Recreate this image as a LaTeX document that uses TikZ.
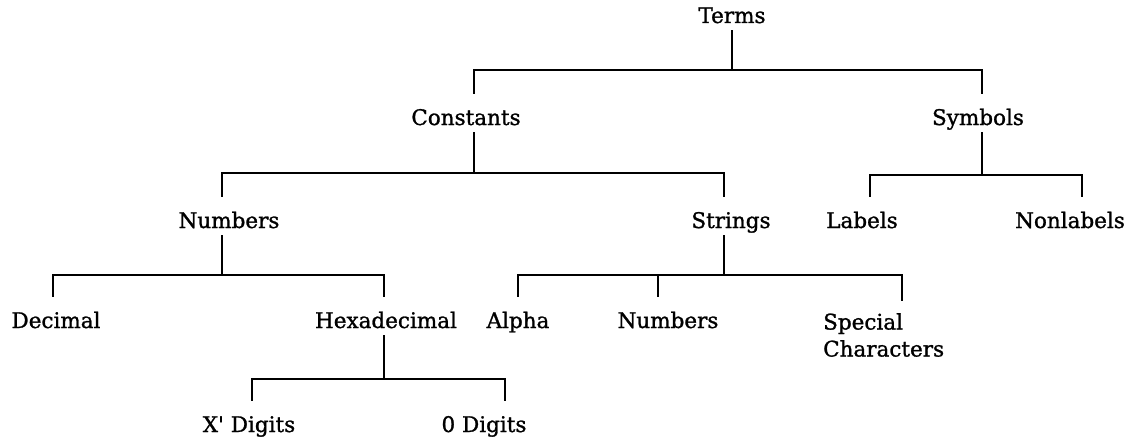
\documentclass[tikz,border=0pt]{standalone}
\usepackage{fontspec}
\setmainfont{DejaVu Serif}[FakeBold=1.2]
\newfontfamily\treefont{DejaVu Serif}[FakeBold=1.2]
\usepackage{tikz}

\begin{document}
\begin{tikzpicture}[
    x=1pt, y=-1pt,
    txt/.style={inner sep=0pt, font=\treefont\fontsize{21.5}{27}\selectfont},
    word/.style={txt, text height=15pt, text depth=4pt, anchor=base},
    link/.style={line width=2.2pt, draw=black},
    stem/.style={link, shorten <=3pt},
    drop/.style={link, shorten >=16pt}
]
\useasboundingbox (0,0) rectangle (1133,439);

% Nodes
\node[word] (terms) at (732,23) {Terms};

\node[word] (constants) at (466,125) {Constants};
\node[word] (symbols) at (978,125) {Symbols};

\node[word] (numbers) at (229,228) {Numbers};
\node[word] (strings) at (731,228) {Strings};
\node[word] (labels) at (862,228) {Labels};
\node[word] (nonlabels) at (1070,228) {Nonlabels};

\node[word] (decimal) at (56,328) {Decimal};
\node[word] (hexa) at (386,328) {Hexadecimal};
\node[word] (alpha) at (518,328) {Alpha};
\node[word] (strnum) at (668,328) {Numbers};
\node[txt, align=left, anchor=north west] (special) at (823,313) {Special\\Characters};

\node[word] (xdigits) at (249,432) {X\textquotesingle{} Digits};
\node[word] (odigits) at (484,432) {0 Digits};

% Branches
\draw[stem] (terms.south) -- ++(0,43) coordinate (termsbar);
\draw[drop] (termsbar) -| ([xshift=8pt]constants.north);
\draw[drop] (termsbar) -| ([xshift=4pt]symbols.north);

\draw[stem] ([xshift=8pt]constants.south) -- ++(0,44) coordinate (constbar);
\draw[drop] (constbar) -| ([xshift=-7pt]numbers.north);
\draw[drop] (constbar) -| ([xshift=-7pt]strings.north);

\draw[stem] ([xshift=4pt]symbols.south) -- ++(0,46) coordinate (symbar);
\draw[drop] (symbar) -| ([xshift=8pt]labels.north);
\draw[drop] (symbar) -| ([xshift=12pt]nonlabels.north);

\draw[stem] ([xshift=-7pt]numbers.south) -- ++(0,43) coordinate (numbar);
\draw[drop] (numbar) -| ([xshift=-3pt]decimal.north);
\draw[drop] (numbar) -| ([xshift=-2pt]hexa.north);

\draw[stem] ([xshift=-7pt]strings.south) -- ++(0,43) coordinate (strbar);
\draw[drop] (strbar) -| (alpha.north);
\draw[drop] (strbar) -| ([xshift=-10pt]strnum.north);
\draw[drop, shorten >=12pt] (strbar) -| ([xshift=79pt]special.north west);

\draw[stem] ([xshift=-2pt]hexa.south) -- ++(0,47) coordinate (hexbar);
\draw[drop] (hexbar) -| ([xshift=3pt]xdigits.north);
\draw[drop] (hexbar) -| ([xshift=21pt]odigits.north);

\end{tikzpicture}
\end{document}
